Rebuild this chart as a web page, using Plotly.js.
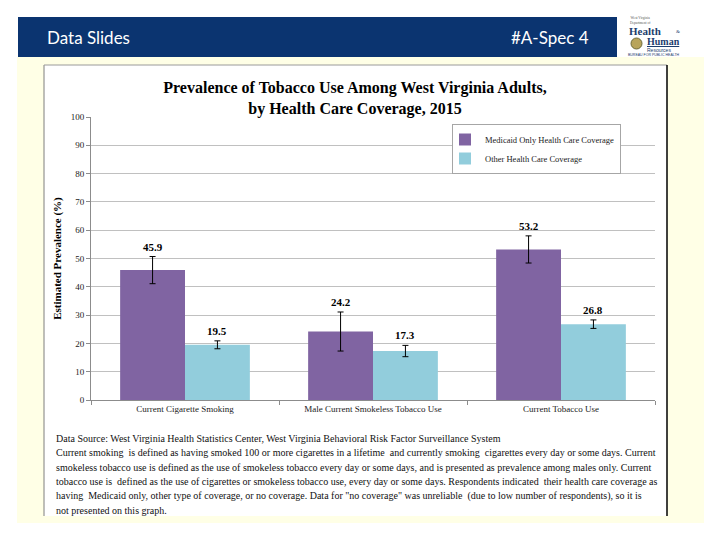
<!DOCTYPE html>
<html>
<head>
<meta charset="utf-8">
<script src="https://cdn.plot.ly/plotly-3.0.1.min.js"></script>
<style>html,body{margin:0;padding:0;background:#fff;}#chart{width:720px;height:540px;}</style>
</head>
<body>
<div id="chart"></div>
<script>
// ---- data ----
const categories = ["Current Cigarette Smoking", "Male Current Smokeless Tobacco Use", "Current Tobacco Use"];
const seriesNames = ["Medicaid Only Health Care Coverage", "Other Health Care Coverage"];
const medicaidValues = [45.9, 24.2, 53.2];
const medicaidErrors = [4.8, 6.9, 4.8];
const otherValues = [19.5, 17.3, 26.8];
const otherErrors = [1.4, 2.0, 1.5];
const yTickValues = [0, 10, 20, 30, 40, 50, 60, 70, 80, 90, 100];
const chartTitle = "Prevalence of Tobacco Use Among West Virginia Adults,<br>by Health Care Coverage, 2015";
const yTitle = "Estimated Prevalence (%)";
const headerLeft = "Data Slides";
const headerRight = "#A-Spec 4";
const footnoteLines = [
  "Data Source: West Virginia Health Statistics Center, West Virginia Behavioral Risk Factor Surveillance System",
  "Current smoking  is defined as having smoked 100 or more cigarettes in a lifetime  and currently smoking  cigarettes every day or some days. Current",
  "smokeless tobacco use is defined as the use of smokeless tobacco every day or some days, and is presented as prevalence among males only. Current",
  "tobacco use is  defined as the use of cigarettes or smokeless tobacco use, every day or some days. Respondents indicated  their health care coverage as",
  "having  Medicaid only, other type of coverage, or no coverage. Data for \"no coverage\" was unreliable  (due to low number of respondents), so it is",
  "not presented on this graph."
];

// ---- layout geometry (pixels) ----
const W = 720, H = 540;
const PL = 91, PR = 655, PT = 117, PB = 400;
const px = v => (v - PL) / (PR - PL);
const py = v => (PB - v) / (PB - PT);
const serif = "Liberation Serif, Times New Roman, serif";
const purple = "#8064A2", lightBlue = "#92CDDC";

const bargap = 0.31;
const half = (1 - bargap) / 4; // offset of each bar centre from the category centre

const traces = [
  {
    type: "bar", name: seriesNames[0], x: categories, y: medicaidValues,
    marker: {color: purple},
    error_y: {type: "data", array: medicaidErrors, visible: true, color: "#000", thickness: 1, width: 3},
    hoverinfo: "y"
  },
  {
    type: "bar", name: seriesNames[1], x: categories, y: otherValues,
    marker: {color: lightBlue},
    error_y: {type: "data", array: otherErrors, visible: true, color: "#000", thickness: 1, width: 3},
    hoverinfo: "y"
  }
];

const annotations = [];
medicaidValues.forEach((v, i) => annotations.push({
  xref: "x", yref: "y", x: i - half, y: v + medicaidErrors[i], text: "<b>" + v.toFixed(1) + "</b>",
  showarrow: false, yanchor: "bottom", yshift: 2, font: {family: serif, size: 11, color: "#000"}
}));
otherValues.forEach((v, i) => annotations.push({
  xref: "x", yref: "y", x: i + half, y: v + otherErrors[i], text: "<b>" + v.toFixed(1) + "</b>",
  showarrow: false, yanchor: "bottom", yshift: 2, font: {family: serif, size: 11, color: "#000"}
}));
footnoteLines.forEach((t, i) => annotations.push({
  xref: "paper", yref: "paper", x: px(54), y: py([438, 452.5, 467, 481, 495.5, 510][i]),
  xanchor: "left", yanchor: "middle", showarrow: false, text: t,
  font: {family: serif, size: 10, color: "#111"}
}));
// header texts
annotations.push({xref: "paper", yref: "paper", x: px(45), y: py(37), xanchor: "left", yanchor: "middle",
  showarrow: false, text: headerLeft, font: {family: "Lato, Open Sans, sans-serif", size: 17, color: "#fff"}});
annotations.push({xref: "paper", yref: "paper", x: px(591), y: py(37), xanchor: "right", yanchor: "middle",
  showarrow: false, text: headerRight, font: {family: "Lato, Open Sans, sans-serif", size: 17, color: "#fff"}});
// logo texts
const logoBlue = "#1d3d6e";
const logo = (x, y, text, size, family, color) => annotations.push({xref: "paper", yref: "paper",
  x: px(x), y: py(y), xanchor: "left", yanchor: "middle", showarrow: false, text: text,
  font: {family: family, size: size, color: color || logoBlue}});
logo(628, 20, "West Virginia<br>Department of", 3.5, serif, "#555");
logo(627, 30.5, "<b>Health</b>", 11, serif);
logo(674, 31.5, "&", 5, serif);
logo(645, 41.5, "<b><u>Human</u></b>", 10, serif);
logo(645, 49.5, "Resources", 5, "Liberation Sans, sans-serif");
logo(626, 55, "BUREAU FOR PUBLIC HEALTH", 3.5, "Liberation Sans, sans-serif");

const rect = (x0, y0, x1, y1, fill, line) => ({type: "rect", xref: "paper", yref: "paper", layer: "below",
  x0: px(x0), x1: px(x1), y0: py(y0), y1: py(y1), fillcolor: fill, line: line || {width: 0}});
const seg = (x0, y0, x1, y1, color, width) => ({type: "line", xref: "paper", yref: "paper", layer: "below",
  x0: px(x0), x1: px(x1), y0: py(y0), y1: py(y1), line: {color: color, width: width}});

const shapes = [
  rect(17, 57, 704, 523, "#FFFFE6"),
  rect(18, 17, 617, 57, "#0B3470"),
  rect(44, 65, 667, 516, "#FFFFFF"),
  seg(44, 65, 44, 516, "#7f7f7f", 1),
  seg(44, 65, 667, 65, "#9a9a9a", 1),
  seg(667, 65, 667, 516, "#000000", 1.5),
  {type: "circle", xref: "paper", yref: "paper", layer: "below",
   x0: px(631), x1: px(642), y0: py(49), y1: py(38), fillcolor: "#b8a45a", line: {color: "#6d6a3a", width: 1}}
];

const layout = {
  width: W, height: H,
  margin: {l: PL, r: W - PR, t: PT, b: H - PB, pad: 0},
  paper_bgcolor: "#FFFFFF",
  plot_bgcolor: "rgba(0,0,0,0)",
  barmode: "group", bargap: bargap, bargroupgap: 0,
  title: {text: chartTitle, x: 355 / W, xref: "container", xanchor: "center",
          y: 1 - 93 / H, yref: "container", yanchor: "middle",
          font: {family: serif, size: 16, color: "#000", weight: "bold"}},
  xaxis: {type: "category", showgrid: false, showline: true, linecolor: "#8c8c8c", linewidth: 1,
          ticks: "outside", tickson: "boundaries", ticklen: 4, tickcolor: "#8c8c8c",
          tickfont: {family: serif, size: 9, color: "#222"}, zeroline: false},
  yaxis: {range: [0, 100], tickvals: yTickValues, showgrid: true, gridcolor: "#c0c0c0", gridwidth: 1,
          showline: true, linecolor: "#8c8c8c", linewidth: 1, ticks: "outside", ticklen: 4, tickcolor: "#8c8c8c",
          tickfont: {family: serif, size: 9, color: "#222"}, zeroline: false,
          title: {text: yTitle, standoff: 6, font: {family: serif, size: 11, color: "#000", weight: "bold"}}},
  legend: {x: px(452), y: py(124), xanchor: "left", yanchor: "top", bgcolor: "#fff",
           bordercolor: "#a6a6a6", borderwidth: 1, font: {family: serif, size: 8.5, color: "#222"},
           traceorder: "normal", itemwidth: 30, indentation: -8},
  showlegend: true,
  annotations: annotations,
  shapes: shapes
};

Plotly.newPlot("chart", traces, layout, {displayModeBar: false, staticPlot: true});
</script>
</body>
</html>
